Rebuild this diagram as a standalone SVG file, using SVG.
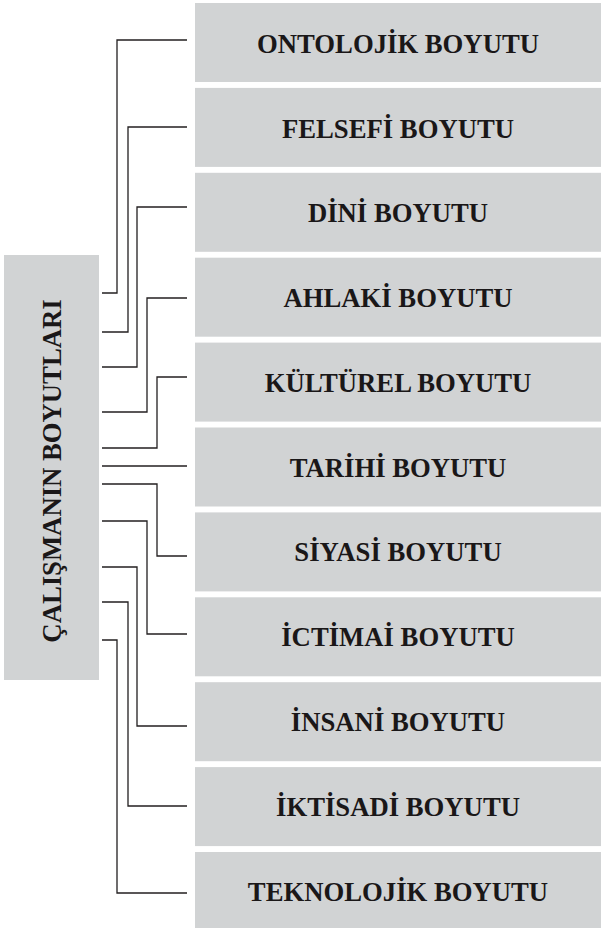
<svg xmlns="http://www.w3.org/2000/svg" width="601" height="928" viewBox="0 0 601 928">
<style>
.box{fill:#d1d3d4}
.lbl{font-family:"Liberation Serif","Times New Roman",serif;font-weight:bold;font-size:26.7px;fill:#1a1718;text-anchor:middle}
.con{fill:none;stroke:#231f20;stroke-width:1.3}
</style>
<rect width="601" height="928" fill="#ffffff"/>
<g id="root">
<rect class="box" x="4" y="255" width="95" height="425"/>
<text class="lbl" transform="translate(60.5,471) rotate(-90)">ÇALIŞMANIN BOYUTLARI</text>
</g>
<g id="n1"><rect class="box" x="195" y="3" width="406" height="79"/><text class="lbl" x="398" y="53.3">ONTOLOJİK BOYUTU</text></g>
<g id="n2"><rect class="box" x="195" y="87.9" width="406" height="79"/><text class="lbl" x="398" y="137.9">FELSEFİ BOYUTU</text></g>
<g id="n3"><rect class="box" x="195" y="172.8" width="406" height="79"/><text class="lbl" x="398" y="222">DİNİ BOYUTU</text></g>
<g id="n4"><rect class="box" x="195" y="257.7" width="406" height="79"/><text class="lbl" x="398" y="307">AHLAKİ BOYUTU</text></g>
<g id="n5"><rect class="box" x="195" y="342.6" width="406" height="79"/><text class="lbl" x="398" y="392">KÜLTÜREL BOYUTU</text></g>
<g id="n6"><rect class="box" x="195" y="427.5" width="406" height="79"/><text class="lbl" x="398" y="476.5">TARİHİ BOYUTU</text></g>
<g id="n7"><rect class="box" x="195" y="512.4" width="406" height="79"/><text class="lbl" x="398" y="561.4">SİYASİ BOYUTU</text></g>
<g id="n8"><rect class="box" x="195" y="597.3" width="406" height="79"/><text class="lbl" x="398" y="646.3">İCTİMAİ BOYUTU</text></g>
<g id="n9"><rect class="box" x="195" y="682.2" width="406" height="79"/><text class="lbl" x="398" y="731.2">İNSANİ BOYUTU</text></g>
<g id="n10"><rect class="box" x="195" y="767.1" width="406" height="79"/><text class="lbl" x="398" y="816.1">İKTİSADİ BOYUTU</text></g>
<g id="n11"><rect class="box" x="195" y="852" width="406" height="79"/><text class="lbl" x="398" y="901">TEKNOLOJİK BOYUTU</text></g>
<g id="connectors">
<polyline class="con" points="102,293 117,293 117,40 187,40"/>
<polyline class="con" points="102,332 128,332 128,127 187,127"/>
<polyline class="con" points="102,367 137,367 137,207 187,207"/>
<polyline class="con" points="102,412 147,412 147,298 187,298"/>
<polyline class="con" points="102,448 157,448 157,377 187,377"/>
<polyline class="con" points="102,466 187,466"/>
<polyline class="con" points="102,484 157,484 157,556 187,556"/>
<polyline class="con" points="102,521 147,521 147,634 187,634"/>
<polyline class="con" points="102,567 137,567 137,726 187,726"/>
<polyline class="con" points="102,602 128,602 128,806 187,806"/>
<polyline class="con" points="102,640 117,640 117,893 187,893"/>
</g>
</svg>
